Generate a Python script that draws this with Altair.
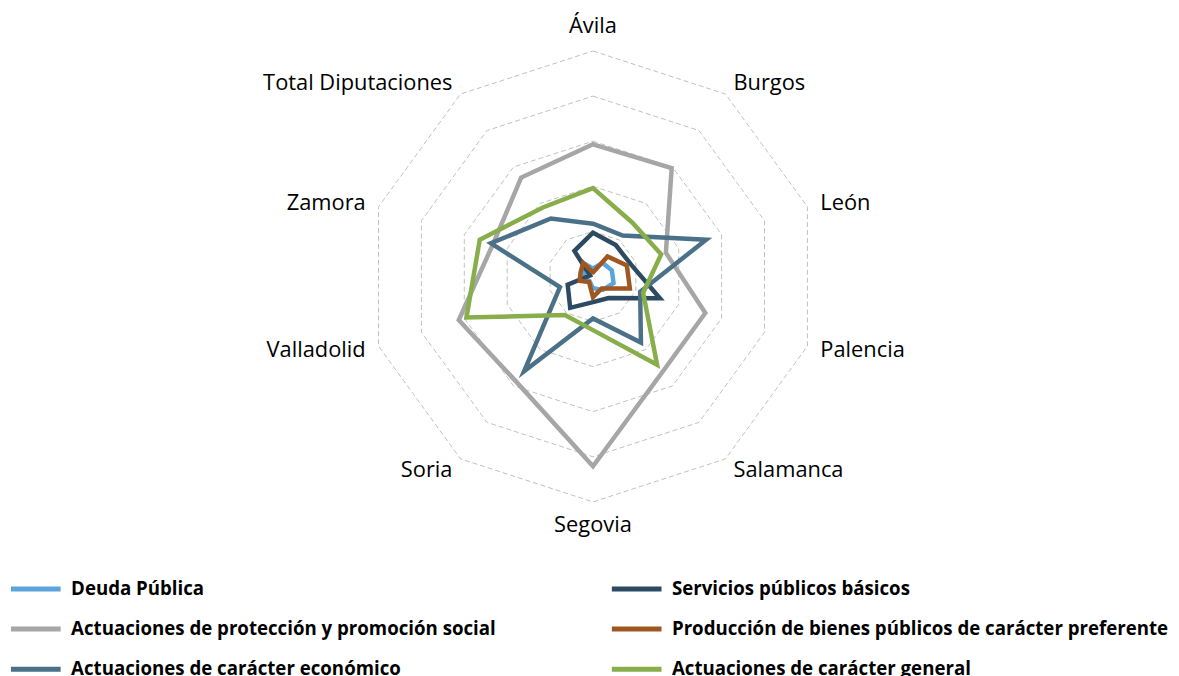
import altair as alt
import numpy as np
import pandas as pd

# ---------------- data ----------------
categories = ["Ávila", "Burgos", "León", "Palencia", "Salamanca", "Segovia",
              "Soria", "Valladolid", "Zamora", "Total Diputaciones"]

series = ["Deuda Pública",
          "Servicios públicos básicos",
          "Actuaciones de protección y promoción social",
          "Producción de bienes públicos de carácter preferente",
          "Actuaciones de carácter económico",
          "Actuaciones de carácter general"]

deuda = [1.8, 3.7, 4.4, 4.8, 3.7, 2.6, 1.3, 1.8, 2.2, 3.7]
servicios = [9.7, 8.6, 8.8, 15.6, 5.9, 5.7, 8.6, 5.9, 0.7, 7.0]
proteccion = [29.3, 29.7, 17.0, 26.2, 26.2, 42.1, 28.9, 31.3, 23.3, 27.1]
produccion = [0.9, 5.5, 7.9, 8.6, 3.3, 4.6, 1.5, 3.1, 2.9, 3.7]
economico = [11.7, 11.2, 26.4, 11.0, 18.1, 9.3, 26.0, 7.7, 23.8, 15.9]
general = [19.6, 14.8, 15.9, 11.7, 24.2, 11.9, 10.6, 29.5, 26.4, 18.9]

ring_levels = [10, 20, 30, 40, 50]

# ---------------- styles / layout ----------------
colors = ["#5BA5DC", "#2C4A62", "#A6A6A6", "#A0561F", "#4A7187", "#87AE4B"]
label_radius = 53
k = 4.54               # px per unit
W, H = 1171, 668
cx, cy = 589, 268
x_dom = [-cx / k, (W - cx) / k]
y_dom = [-(H - cy) / k, cy / k]

n = len(categories)


def ang(i):
    return 2 * np.pi * i / n


rows = []
for s, vals in zip(series, [deuda, servicios, proteccion, produccion, economico, general]):
    for j in range(n + 1):
        i = j % n
        rows.append({"serie": s, "x": vals[i] * np.sin(ang(i)),
                     "y": vals[i] * np.cos(ang(i)), "order": j})
df = pd.DataFrame(rows)

grid_rows = []
for r in ring_levels:
    for j in range(n + 1):
        i = j % n
        grid_rows.append({"ring": r, "x": r * np.sin(ang(i)), "y": r * np.cos(ang(i)), "order": j})
grid_df = pd.DataFrame(grid_rows)

lab_rows = []
for i, c in enumerate(categories):
    s = np.sin(ang(i))
    co = np.cos(ang(i))
    if abs(s) < 1e-6:
        align = "center"
    elif s > 0:
        align = "left"
    else:
        align = "right"
    if co > 0.99:
        base = "bottom"
    elif co < -0.99:
        base = "top"
    else:
        base = "middle"
    lab_rows.append({"cat": c, "x": label_radius * s, "y": label_radius * co,
                     "align": align, "base": base})
lab_df = pd.DataFrame(lab_rows)

X = alt.X("x:Q", scale=alt.Scale(domain=x_dom, nice=False, zero=False), axis=None)
Y = alt.Y("y:Q", scale=alt.Scale(domain=y_dom, nice=False, zero=False), axis=None)

grid = alt.Chart(grid_df).mark_line(
    color="#BFBFBF", strokeWidth=1, strokeDash=[5, 3]
).encode(x=X, y=Y, detail="ring:N", order="order:Q")

legend = alt.Legend(
    title=None, orient="none", legendX=0.5, legendY=555, columns=2,
    direction="horizontal",
    columnPadding=106, rowPadding=2.5, symbolType="stroke", symbolSize=2500,
    symbolStrokeWidth=5, labelFont="Open Sans", labelFontSize=18.8,
    labelFontWeight="bold", labelColor="black", labelOffset=8, labelLimit=0,
    padding=0,
)

layers = [grid]
for idx, s in enumerate(series):
    layers.append(
        alt.Chart(df[df["serie"] == s]).mark_line(
            strokeWidth=4.5, strokeJoin="miter", strokeCap="round"
        ).encode(
            x=X, y=Y, order="order:Q",
            color=alt.Color("serie:N", scale=alt.Scale(domain=series, range=colors),
                            legend=legend),
        )
    )

for (al, bl), sub in lab_df.groupby(["align", "base"]):
    layers.append(
        alt.Chart(sub).mark_text(
            font="Open Sans", fontSize=22, color="black", align=al, baseline=bl
        ).encode(x=X, y=Y, text="cat:N")
    )

chart = alt.layer(*layers).properties(
    width=W, height=H, padding=0, autosize=alt.AutoSizeParams(type="none")
).configure_view(stroke=None)

chart.save("out.html", embed_options={"renderer": "svg", "actions": False})
